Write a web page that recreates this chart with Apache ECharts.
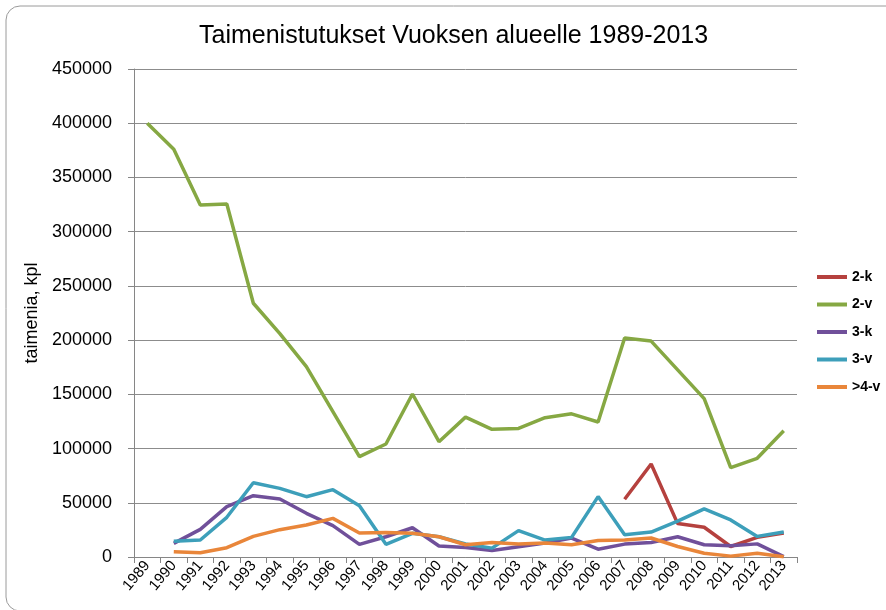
<!DOCTYPE html>
<html>
<head>
<meta charset="utf-8">
<script src="https://cdn.jsdelivr.net/npm/echarts@6/dist/echarts.min.js"></script>
<style>
html,body{margin:0;padding:0;background:#fff;}
#chart{width:886px;height:610px;}
</style>
</head>
<body>
<div id="chart"></div>
<script>
var years = ['1989','1990','1991','1992','1993','1994','1995','1996','1997','1998','1999','2000','2001','2002','2003','2004','2005','2006','2007','2008','2009','2010','2011','2012','2013'];
var s2k = [null,null,null,null,null,null,null,null,null,null,null,null,null,null,null,null,null,null,53200,85800,30800,27400,9700,18100,22100];
var s2v = [400000,376000,324600,325500,234000,206000,175500,134000,92500,104200,150300,106300,129000,117700,118600,128500,132000,124500,201900,199100,172500,146000,82500,91000,116400];
var s3k = [null,12600,25500,46400,56500,53500,40300,28900,11700,18700,27000,10100,8800,6000,9400,12800,17500,7200,11900,13400,18700,11300,10300,12100,400];
var s3v = [null,14500,15700,36600,68500,63300,55600,62100,47300,11700,21800,18700,12000,8200,24300,15600,18100,55700,20600,23000,33000,44300,34200,19000,23000];
var s4v = [null,4900,4000,8600,19000,25200,29500,35600,22100,22700,21800,18700,11300,13400,11900,12800,11300,15300,15600,17500,9700,3500,800,3500,200];
var seriesNames = ['2-k','2-v','3-k','3-v','>4-v'];
var seriesColors = ['#B5413E','#86A843','#70509A','#3D9FBA','#E9863A'];
var seriesData = [s2k,s2v,s3k,s3v,s4v];

var chart = echarts.init(document.getElementById('chart'));
var font = '"Liberation Sans", Arial, sans-serif';
var option = {
  animation: false,
  backgroundColor: '#fff',
  textStyle: {fontFamily: font},
  graphic: [{
    type: 'rect',
    shape: {x: 6, y: 6, width: 900, height: 605, r: 14},
    style: {fill: 'none', stroke: '#9a9a9a', lineWidth: 1},
    silent: true
  }],
  title: {
    text: 'Taimenistutukset Vuoksen alueelle 1989-2013',
    left: 194, top: 19,
    textStyle: {fontFamily: font, fontSize: 25, fontWeight: 'normal', color: '#000'}
  },
  grid: {left: 134, right: 89, top: 69, bottom: 53, containLabel: false},
  legend: {
    orient: 'vertical',
    left: 817, top: 269, padding: 0,
    itemWidth: 30, itemHeight: 4, itemGap: 11.5,
    icon: 'rect',
    data: seriesNames,
    textStyle: {fontFamily: font, fontSize: 14, fontWeight: 'bold', color: '#000', lineHeight: 16}
  },
  xAxis: {
    type: 'category',
    data: years,
    boundaryGap: true,
    axisLine: {lineStyle: {color: '#868686', width: 1}},
    axisTick: {show: true, length: 6, alignWithLabel: false, interval: 0, lineStyle: {color: '#868686'}},
    axisLabel: {interval: 0, rotate: 50, fontSize: 15, color: '#000', margin: 6, fontFamily: font}
  },
  yAxis: {
    type: 'value',
    min: 0, max: 450000, interval: 50000,
    name: 'taimenia, kpl',
    nameLocation: 'middle',
    nameRotate: 90,
    nameGap: 84,
    nameTextStyle: {fontSize: 18, color: '#000', fontFamily: font},
    axisLine: {show: true, lineStyle: {color: '#868686', width: 1}},
    axisTick: {show: true, length: 6, lineStyle: {color: '#868686'}},
    axisLabel: {fontSize: 18, color: '#000', margin: 22, fontFamily: font,
      formatter: function (v) { return String(v); }},
    splitLine: {show: true, lineStyle: {color: '#8c8c8c', width: 1}}
  },
  series: seriesNames.map(function (n, i) {
    return {
      name: n,
      type: 'line',
      data: seriesData[i],
      color: seriesColors[i],
      symbol: 'none',
      showSymbol: false,
      connectNulls: false,
      lineStyle: {width: 3.5, color: seriesColors[i]},
      itemStyle: {color: seriesColors[i]},
      z: 2 + i
    };
  })
};
chart.setOption(option);
</script>
</body>
</html>
